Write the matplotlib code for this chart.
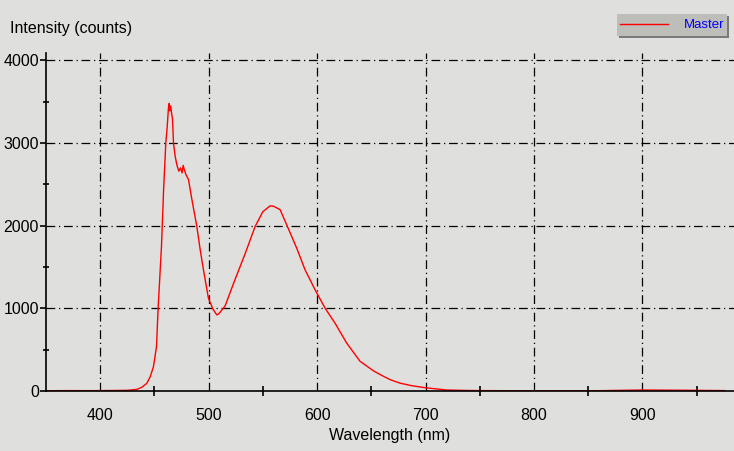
import matplotlib
matplotlib.use("Agg")
import matplotlib.pyplot as plt
from matplotlib.patches import Rectangle
from matplotlib.lines import Line2D

plt.rcParams['font.family'] = ['Liberation Sans', 'DejaVu Sans']

# spectrum (wavelength nm, counts)
wavelength = [350, 370, 390, 410, 425, 433.8, 438.4, 443.0, 446.1, 449.1, 451.9,
              453.4, 456.5, 458.5, 460.5, 461.8, 463.0, 463.6, 464.2, 465.0, 465.8,
              466.6, 467.6, 469.0, 470.6, 472.5, 474.0, 475.5, 476.5, 477.5, 479.0,
              481.4, 484.5, 489.1, 492.2, 495.2, 499.8, 504.0, 507.5, 509.0, 511.0,
              515.2, 522.9, 533.6, 542.9, 550.0, 556.7, 560.0, 565.9, 572.6, 581.2,
              588.9, 598.2, 607.4, 616.6, 627.4, 639.6, 651.9, 658.0, 667.3, 676.5,
              687.0, 699.5, 719.5, 740, 780, 820, 860, 900, 940, 976]
intensity = [3, 5, 4, 6, 8, 20, 45, 93, 173, 294, 536,
             1000, 1750, 2450, 3003, 3200, 3440, 3480, 3390, 3450, 3360,
             3300, 3000, 2850, 2740, 2660, 2700, 2640, 2730, 2680, 2620,
             2560, 2320, 1992, 1709, 1467, 1123, 990, 921, 930, 960,
             1030, 1300, 1660, 1992, 2170, 2240, 2235, 2194, 1992, 1729,
             1467, 1224, 1002, 820, 578, 360, 245, 200, 138, 95,
             65, 40, 12, 6, 3, 3, 4, 12, 9, 5]
series_name = "Master"

x_major = [400, 500, 600, 700, 800, 900]
x_minor = [450, 550, 650, 750, 850, 950]
y_major = [0, 1000, 2000, 3000, 4000]
y_minor = [500, 1500, 2500, 3500]

bg = '#dfdfdd'
fig = plt.figure(figsize=(7.34, 4.51), dpi=100, facecolor=bg)
ax = fig.add_axes([46 / 734, 1 - 391 / 451, 1 - 46 / 734, (391 - 53) / 451])
ax.set_facecolor(bg)

ax.set_xlim(350, 984.5)
ax.set_ylim(0, 4090)

ax.plot(wavelength, intensity, color='red', lw=1.0, zorder=3)

# dash-dot grid
dd = (0, (7, 3, 1, 3))
for v in x_major:
    ax.axvline(v, color='black', lw=0.9, linestyle=dd, zorder=1)
for v in y_major[1:]:
    ax.axhline(v, color='black', lw=0.9, linestyle=dd, zorder=1)

for s in ['top', 'right']:
    ax.spines[s].set_visible(False)
for s in ['left', 'bottom']:
    ax.spines[s].set_linewidth(1.2)
    ax.spines[s].set_zorder(4)

ax.set_xticks(x_major)
ax.set_xticks(x_minor, minor=True)
ax.set_yticks(y_major)
ax.set_yticks(y_minor, minor=True)
ax.tick_params(axis='x', which='major', length=0, pad=12, labelsize=11.5)
ax.tick_params(axis='x', which='minor', length=7, direction='inout', width=1.2)
ax.tick_params(axis='y', which='major', length=4, width=1.2, pad=1, labelsize=11.5)
ax.tick_params(axis='y', which='minor', length=5, direction='inout', width=1.2)

ax.set_xlabel("Wavelength (nm)", fontsize=11.5, labelpad=4)
fig.text(10 / 734, 1 - 28 / 451, "Intensity (counts)", fontsize=11.5,
         ha='left', va='center')

# legend button in the top right corner
W, H = 734, 451
fig.patches.append(Rectangle((619 / W, 1 - 38 / H), 110 / W, 22 / H,
                             transform=fig.transFigure, facecolor='#7a7a7a',
                             edgecolor='none'))
fig.patches.append(Rectangle((617 / W, 1 - 36 / H), 110 / W, 22 / H,
                             transform=fig.transFigure, facecolor='#bdbdb9',
                             edgecolor='none'))
fig.lines.append(Line2D([620 / W, 668 / W], [1 - 24 / H, 1 - 24 / H],
                        transform=fig.transFigure, color='red', lw=1.0))
fig.text(724 / W, 1 - 25 / H, series_name, color='#0000ff', fontsize=9.5,
         ha='right', va='center')

fig.savefig("out.png", dpi=100, facecolor=bg)
